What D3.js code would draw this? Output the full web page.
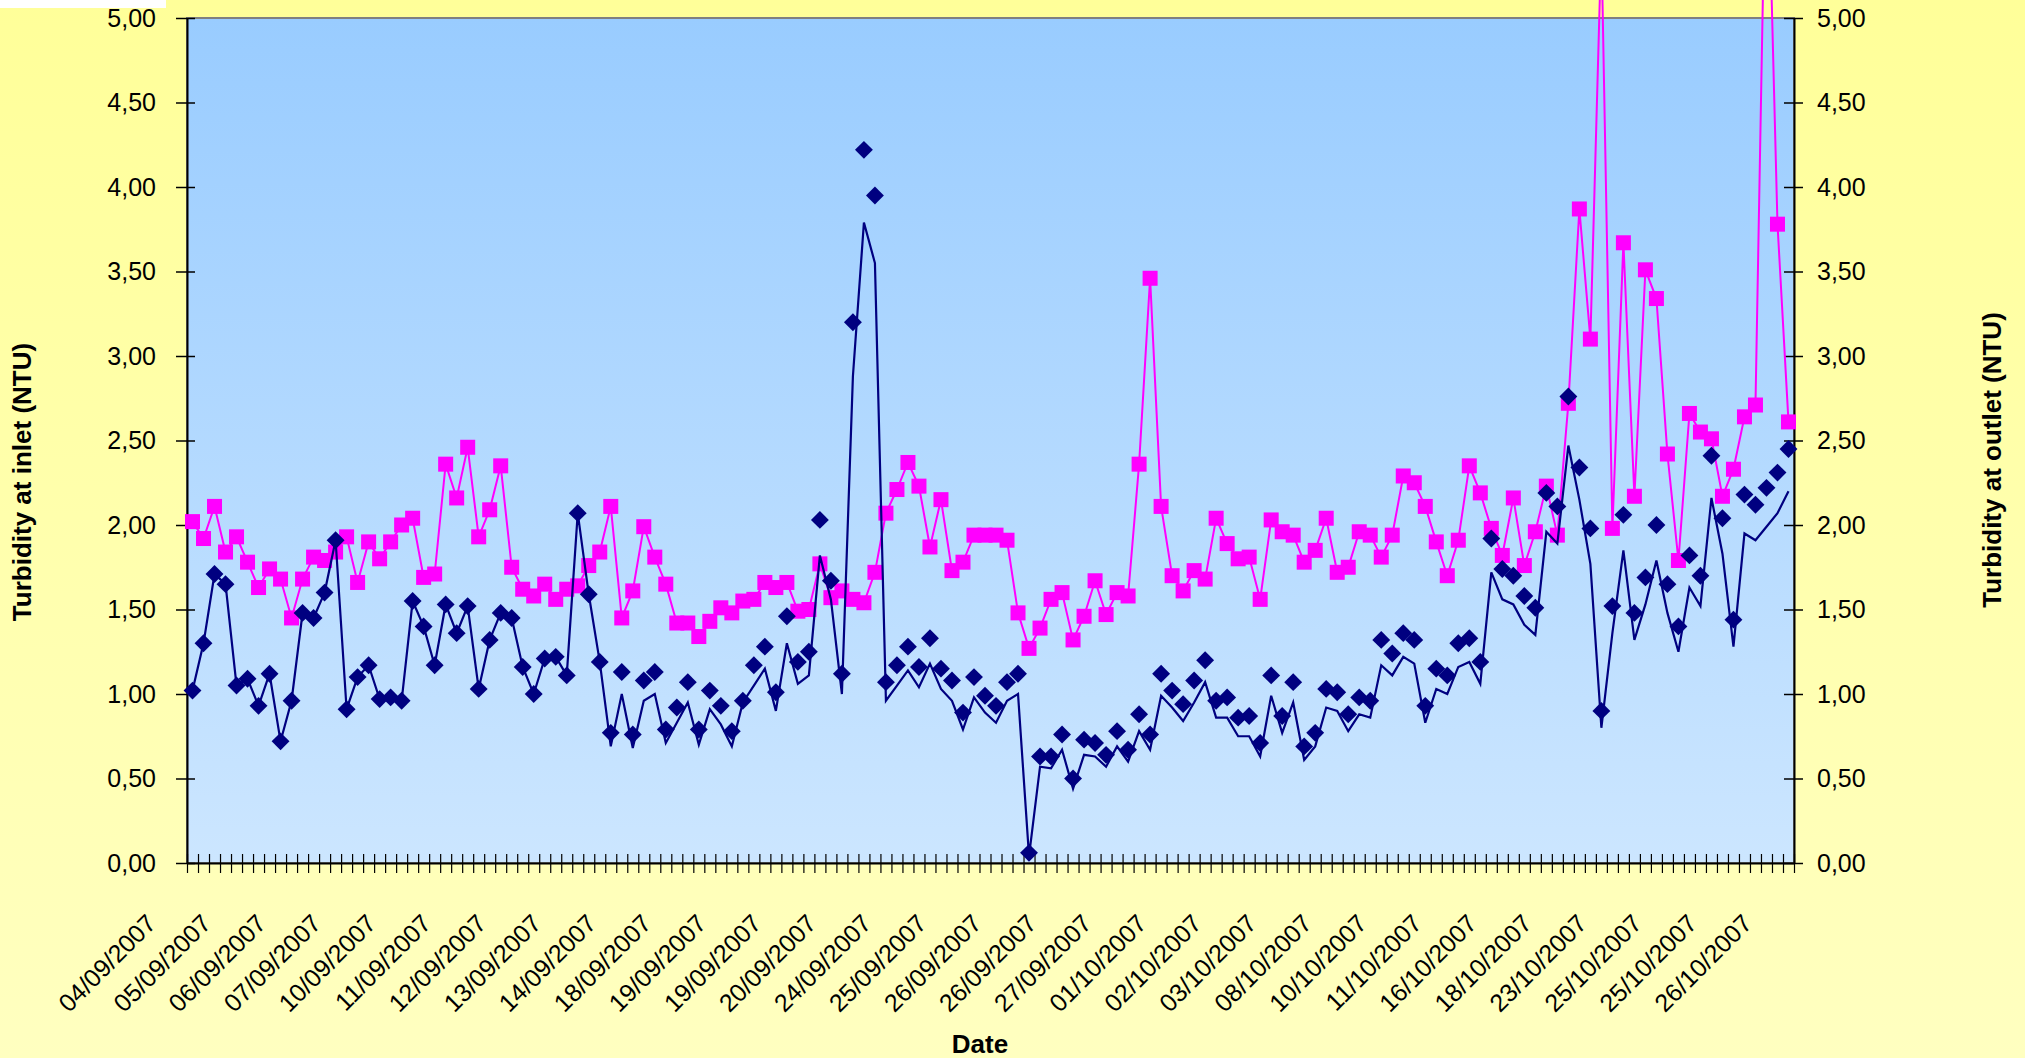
<!DOCTYPE html>
<html>
<head>
<meta charset="utf-8">
<script src="https://cdn.jsdelivr.net/npm/d3@7"></script>
<style>
  body { margin: 0; background: #fff; }
  svg text { font-family: "Liberation Sans", Arial, sans-serif; fill: #000; }
</style>
</head>
<body>
<svg id="chart" width="2025" height="1058"></svg>
<script>
// Etiquetas del eje X (una cada 5 categorías)
const tickLabels = ["04/09/2007", "05/09/2007", "06/09/2007", "07/09/2007", "10/09/2007",
  "11/09/2007", "12/09/2007", "13/09/2007", "14/09/2007", "18/09/2007", "19/09/2007",
  "19/09/2007", "20/09/2007", "24/09/2007", "25/09/2007", "26/09/2007", "26/09/2007",
  "27/09/2007", "01/10/2007", "02/10/2007", "03/10/2007", "08/10/2007", "10/10/2007",
  "11/10/2007", "16/10/2007", "18/10/2007", "23/10/2007", "25/10/2007", "25/10/2007",
  "26/10/2007"];
const labelStep = 5;

// Turbidez a la salida (cuadrados rosas)
const outlet = [2.02, 1.92, 2.11, 1.84, 1.93, 1.78, 1.63, 1.74, 1.68, 1.45,
  1.68, 1.81, 1.79, 1.84, 1.93, 1.66, 1.90, 1.80, 1.90, 2.00,
  2.04, 1.69, 1.71, 2.36, 2.16, 2.46, 1.93, 2.09, 2.35, 1.75,
  1.62, 1.58, 1.65, 1.56, 1.62, 1.64, 1.76, 1.84, 2.11, 1.45,
  1.61, 1.99, 1.81, 1.65, 1.42, 1.42, 1.34, 1.43, 1.51, 1.48,
  1.55, 1.56, 1.66, 1.63, 1.66, 1.49, 1.50, 1.77, 1.57, 1.61,
  1.56, 1.54, 1.72, 2.07, 2.21, 2.37, 2.23, 1.87, 2.15, 1.73,
  1.78, 1.94, 1.94, 1.94, 1.91, 1.48, 1.27, 1.39, 1.56, 1.60,
  1.32, 1.46, 1.67, 1.47, 1.60, 1.58, 2.36, 3.46, 2.11, 1.70,
  1.61, 1.73, 1.68, 2.04, 1.89, 1.80, 1.81, 1.56, 2.03, 1.96,
  1.94, 1.78, 1.85, 2.04, 1.72, 1.75, 1.96, 1.94, 1.81, 1.94,
  2.29, 2.25, 2.11, 1.90, 1.70, 1.91, 2.35, 2.19, 1.98, 1.82,
  2.16, 1.76, 1.96, 2.23, 1.94, 2.72, 3.87, 3.10, 5.45, 1.98,
  3.67, 2.17, 3.51, 3.34, 2.42, 1.79, 2.66, 2.55, 2.51, 2.17,
  2.33, 2.64, 2.71, 6.30, 3.78, 2.61];

// Turbidez a la entrada (rombos)
const inletMarkers = [1.02, 1.30, 1.71, 1.65, 1.05, 1.09, 0.93, 1.12, 0.72, 0.96,
  1.48, 1.45, 1.60, 1.91, 0.91, 1.10, 1.17, 0.97, 0.98, 0.96,
  1.55, 1.40, 1.17, 1.53, 1.36, 1.52, 1.03, 1.32, 1.48, 1.45,
  1.16, 1.00, 1.21, 1.22, 1.11, 2.07, 1.59, 1.19, 0.77, 1.13,
  0.76, 1.08, 1.13, 0.79, 0.92, 1.07, 0.79, 1.02, 0.93, 0.78,
  0.96, 1.17, 1.28, 1.01, 1.46, 1.19, 1.25, 2.03, 1.67, 1.12,
  3.20, 4.22, 3.95, 1.07, 1.17, 1.28, 1.16, 1.33, 1.15, 1.08,
  0.89, 1.10, 0.99, 0.93, 1.07, 1.12, 0.06, 0.63, 0.63, 0.76,
  0.50, 0.73, 0.71, 0.64, 0.78, 0.67, 0.88, 0.76, 1.12, 1.02,
  0.94, 1.08, 1.20, 0.96, 0.98, 0.86, 0.87, 0.71, 1.11, 0.87,
  1.07, 0.69, 0.77, 1.03, 1.01, 0.88, 0.98, 0.96, 1.32, 1.24,
  1.36, 1.32, 0.93, 1.15, 1.11, 1.30, 1.33, 1.19, 1.92, 1.74,
  1.70, 1.58, 1.51, 2.19, 2.11, 2.76, 2.34, 1.98, 0.90, 1.52,
  2.06, 1.48, 1.69, 2.00, 1.65, 1.40, 1.82, 1.70, 2.41, 2.04,
  1.44, 2.18, 2.12, 2.22, 2.31, 2.45];

// Turbidez a la entrada (línea sin marcadores)
const inletLine = [1.02, 1.30, 1.71, 1.65, 1.05, 1.09, 0.93, 1.12, 0.72, 0.96,
  1.48, 1.45, 1.60, 1.91, 0.91, 1.10, 1.17, 0.97, 0.98, 0.96,
  1.55, 1.40, 1.17, 1.53, 1.36, 1.52, 1.03, 1.32, 1.48, 1.45,
  1.16, 1.00, 1.21, 1.22, 1.11, 2.07, 1.59, 1.19, 0.69, 1.00,
  0.68, 0.96, 1.00, 0.71, 0.83, 0.95, 0.70, 0.91, 0.82, 0.69,
  0.95, 1.05, 1.15, 0.90, 1.30, 1.06, 1.11, 1.82, 1.56, 1.00,
  2.88, 3.79, 3.55, 0.96, 1.05, 1.14, 1.04, 1.18, 1.03, 0.96,
  0.79, 0.98, 0.89, 0.83, 0.96, 1.00, 0.04, 0.57, 0.56, 0.67,
  0.44, 0.64, 0.63, 0.57, 0.69, 0.60, 0.78, 0.67, 0.99, 0.92,
  0.84, 0.95, 1.07, 0.86, 0.86, 0.75, 0.75, 0.63, 0.99, 0.77,
  0.95, 0.61, 0.69, 0.92, 0.90, 0.78, 0.88, 0.86, 1.17, 1.11,
  1.22, 1.18, 0.83, 1.03, 1.00, 1.16, 1.19, 1.06, 1.72, 1.56,
  1.53, 1.41, 1.35, 1.96, 1.89, 2.47, 2.15, 1.77, 0.80, 1.36,
  1.85, 1.32, 1.53, 1.79, 1.48, 1.25, 1.63, 1.52, 2.16, 1.83,
  1.28, 1.95, 1.91, 1.99, 2.07, 2.20];

const yTicks = [0, 0.5, 1, 1.5, 2, 2.5, 3, 3.5, 4, 4.5, 5];

const width = 2025, height = 1058;
const margin = { top: 18, right: 231, bottom: 195, left: 187 };
const n = outlet.length;
const idx = d3.range(n);

const svg = d3.select("#chart");

// Degradados de fondo
const defs = svg.append("defs");
const gChart = defs.append("linearGradient").attr("id", "bgChart")
  .attr("x1", 0).attr("y1", 0).attr("x2", 0).attr("y2", 1);
gChart.append("stop").attr("offset", "0%").attr("stop-color", "#FFFF99");
gChart.append("stop").attr("offset", "100%").attr("stop-color", "#FFFFC0");
const gPlot = defs.append("linearGradient").attr("id", "bgPlot")
  .attr("x1", 0).attr("y1", 0).attr("x2", 0).attr("y2", 1);
gPlot.append("stop").attr("offset", "0%").attr("stop-color", "#99CCFF");
gPlot.append("stop").attr("offset", "100%").attr("stop-color", "#CCE6FF");

svg.append("rect").attr("width", width).attr("height", height).attr("fill", "url(#bgChart)");
svg.append("rect").attr("x", 0).attr("y", 0).attr("width", 166).attr("height", 8).attr("fill", "#fff");

// Escalas
const x = d3.scaleBand().domain(idx).range([margin.left, width - margin.right]);
const xEdge = d3.scaleLinear().domain([0, n]).range([margin.left, width - margin.right]);
const y = d3.scaleLinear().domain([0, 5]).range([height - margin.bottom, margin.top]);
const cx = i => x(i) + x.bandwidth() / 2;

svg.append("rect")
  .attr("x", margin.left).attr("y", margin.top)
  .attr("width", width - margin.left - margin.right)
  .attr("height", height - margin.top - margin.bottom)
  .attr("fill", "url(#bgPlot)")
  .attr("stroke", "#808080").attr("stroke-width", 2);

const fmt = d => d3.format(".2f")(d).replace(".", ",");

// Eje izquierdo
const axL = svg.append("g")
  .attr("transform", `translate(${margin.left},0)`)
  .call(d3.axisLeft(y).tickValues(yTicks).tickFormat(fmt).tickSizeOuter(0));
axL.selectAll(".tick line").attr("x1", 8).attr("x2", -11).attr("stroke-width", 1.5);
axL.selectAll(".tick text").attr("x", -31).style("font-size", "25px");
axL.select(".domain").attr("stroke-width", 2);

// Eje derecho
const axR = svg.append("g")
  .attr("transform", `translate(${width - margin.right},0)`)
  .call(d3.axisRight(y).tickValues(yTicks).tickFormat(fmt).tickSizeOuter(0));
axR.selectAll(".tick line").attr("x1", -10).attr("x2", 9).attr("stroke-width", 1.5);
axR.selectAll(".tick text").attr("x", 23).style("font-size", "25px");
axR.select(".domain").attr("stroke-width", 2);

// Eje inferior: marcas en cada límite de categoría
const axB = svg.append("g")
  .attr("transform", `translate(0,${height - margin.bottom})`)
  .call(d3.axisBottom(xEdge).tickValues(d3.range(0, n + 1)).tickFormat("").tickSizeOuter(0));
axB.selectAll(".tick line").attr("y1", -9).attr("y2", 10).attr("stroke-width", 1.2);
axB.select(".domain").attr("stroke-width", 2);

// Etiquetas de fecha giradas
const axLab = svg.append("g")
  .attr("transform", `translate(0,${height - margin.bottom})`)
  .call(d3.axisBottom(x)
    .tickValues(idx.filter(i => i % labelStep === 0))
    .tickFormat(i => tickLabels[i / labelStep])
    .tickSize(0));
axLab.select(".domain").remove();
axLab.selectAll(".tick text")
  .attr("x", 0).attr("y", 0).attr("dy", 0)
  .attr("text-anchor", "end")
  .attr("transform", "translate(-35,62) rotate(-45)")
  .style("font-size", "25px");

// Serie salida (rosa)
svg.append("path")
  .datum(outlet)
  .attr("fill", "none")
  .attr("stroke", "#FF00FF")
  .attr("stroke-width", 2)
  .attr("d", d3.line().x((d, i) => cx(i)).y(d => y(d)));

svg.append("g").selectAll("rect")
  .data(outlet)
  .join("rect")
  .attr("x", (d, i) => cx(i) - 7.5)
  .attr("y", d => y(d) - 7.5)
  .attr("width", 15).attr("height", 15)
  .attr("fill", "#FF00FF");

// Línea entrada
svg.append("path")
  .datum(inletLine)
  .attr("fill", "none")
  .attr("stroke", "#000080")
  .attr("stroke-width", 2.2)
  .attr("d", d3.line().x((d, i) => cx(i)).y(d => y(d)));

// Rombos entrada
const rombo = d3.symbol().type(d3.symbolSquare).size(160);
svg.append("g").selectAll("path")
  .data(inletMarkers)
  .join("path")
  .attr("d", rombo)
  .attr("transform", (d, i) => `translate(${cx(i)},${y(d)}) rotate(45)`)
  .attr("fill", "#000080");

// Títulos de ejes
svg.append("text")
  .attr("x", 980).attr("y", 1053)
  .attr("text-anchor", "middle")
  .style("font-size", "26px").style("font-weight", "bold")
  .text("Date");

svg.append("text")
  .attr("transform", "translate(31,482) rotate(-90)")
  .attr("text-anchor", "middle")
  .style("font-size", "26px").style("font-weight", "bold")
  .text("Turbidity at inlet (NTU)");

svg.append("text")
  .attr("transform", "translate(2001,460) rotate(-90)")
  .attr("text-anchor", "middle")
  .style("font-size", "26px").style("font-weight", "bold")
  .text("Turbidity at outlet (NTU)");
</script>
</body>
</html>
